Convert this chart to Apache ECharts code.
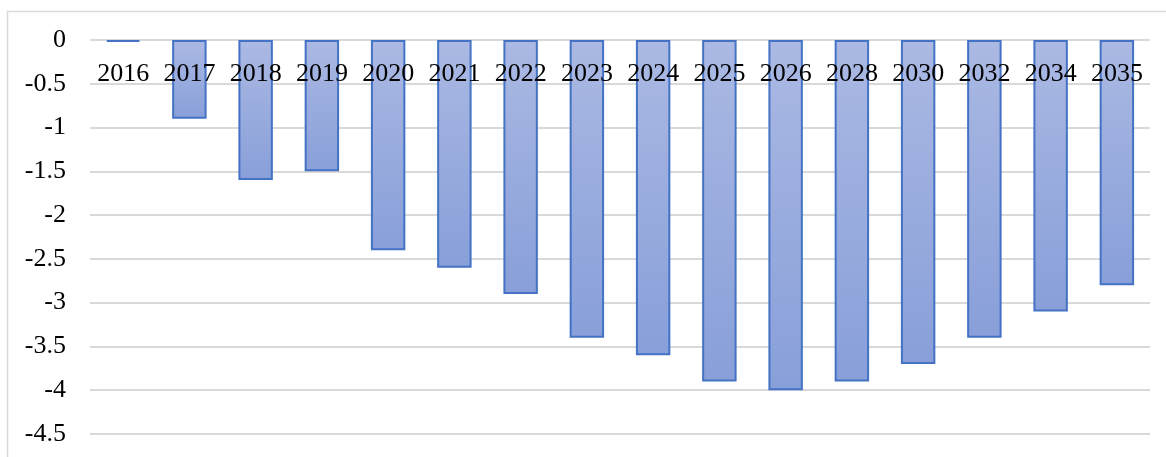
<!DOCTYPE html>
<html>
<head>
<meta charset="utf-8">
<script src="https://cdn.jsdelivr.net/npm/echarts@6/dist/echarts.min.js"></script>
<style>
html,body{margin:0;padding:0;background:#fff;}
#c{width:1166px;height:457px;}
</style>
</head>
<body>
<div id="c"></div>
<script>
const categories = ['2016','2017','2018','2019','2020','2021','2022','2023','2024','2025','2026','2028','2030','2032','2034','2035'];
const values = [-0.02,-0.9,-1.6,-1.5,-2.4,-2.6,-2.9,-3.4,-3.6,-3.9,-4.0,-3.9,-3.7,-3.4,-3.1,-2.8];
const yTicks = {min:-4.5, max:0, interval:0.5};

const chart = echarts.init(document.getElementById('c'), null, {renderer:'canvas'});
const font = 'Liberation Serif';
chart.setOption({
  animation:false,
  backgroundColor:'#fff',
  graphic:[{
    type:'rect', shape:{x:7.5, y:11.5, width:1170, height:460},
    style:{fill:'none', stroke:'#d9d9d9', lineWidth:1.5}, silent:true, z:-1
  }],
  grid:{left:90, right:16, top:40, bottom:23, containLabel:false, outerBoundsMode:'none'},
  xAxis:{
    type:'category', data:categories, position:'top', z:10,
    axisLine:{show:false},
    axisTick:{show:false},
    axisLabel:{inside:true, color:'#000', fontFamily:font, fontSize:26, margin:21, interval:0}
  },
  yAxis:{
    type:'value', min:yTicks.min, max:yTicks.max, interval:yTicks.interval,
    axisLine:{show:false}, axisTick:{show:false},
    splitLine:{lineStyle:{color:'#d9d9d9', width:2}},
    axisLabel:{color:'#000', fontFamily:font, fontSize:26, margin:24}
  },
  series:[{
    type:'bar', data:values, barWidth:'52%', z:2,
    itemStyle:{
      color:new echarts.graphic.LinearGradient(0,0,0,1,[{offset:0,color:'#abb9e3'},{offset:1,color:'#889fd9'}]),
      borderColor:'#4472c4', borderWidth:2
    }
  }]
});
</script>
</body>
</html>
